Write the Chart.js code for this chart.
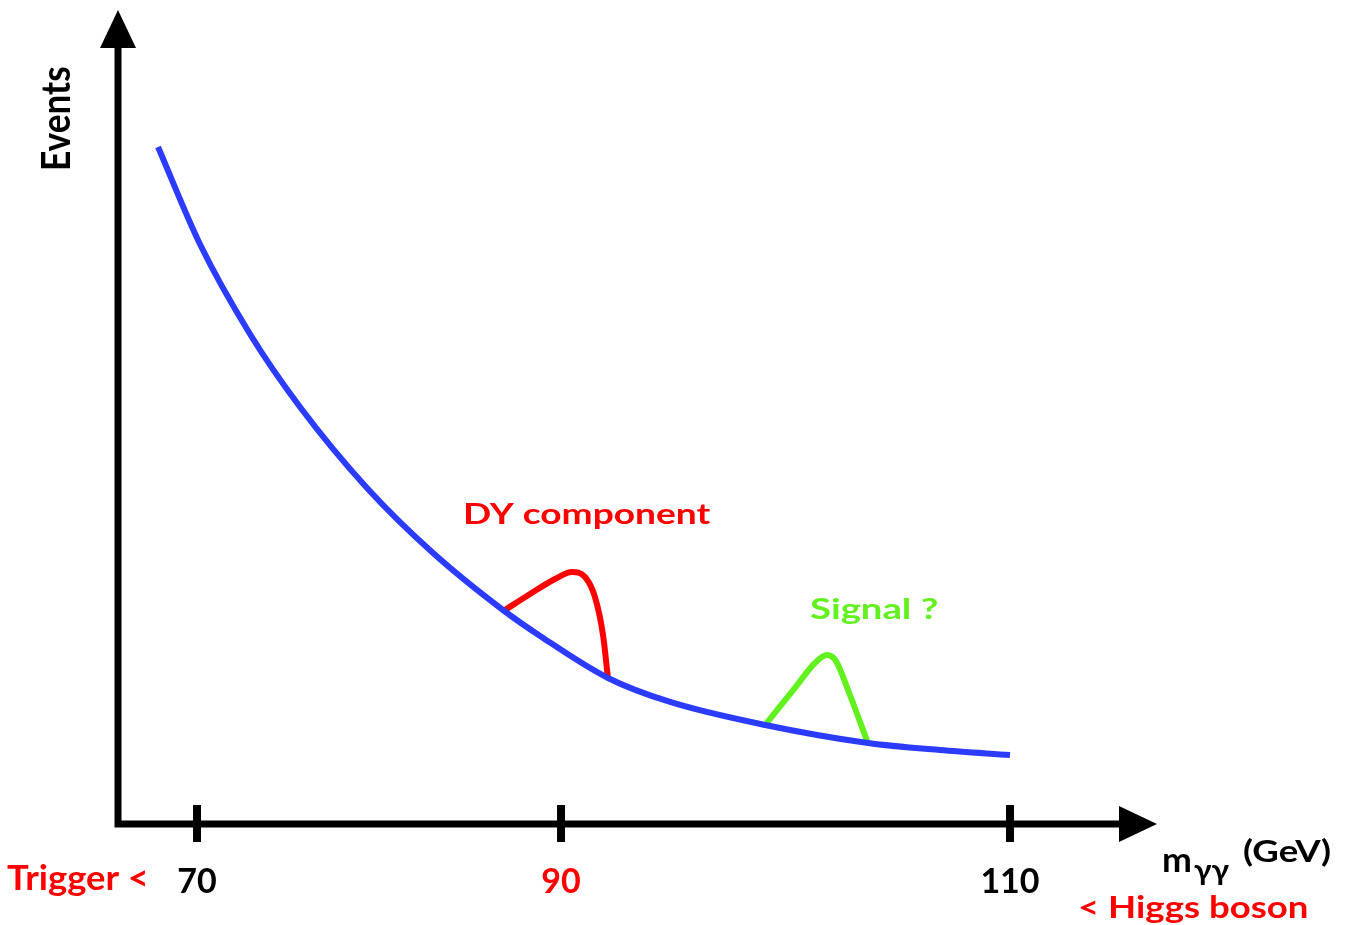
<!DOCTYPE html>
<html>
<head>
<meta charset="utf-8">
<script src="https://cdn.jsdelivr.net/npm/chart.js@4.4.0/dist/chart.umd.min.js"></script>
<style>
  html, body { margin: 0; padding: 0; background: #fff; }
  #wrap { width: 1354px; height: 925px; }
</style>
</head>
<body>
<div id="wrap"><canvas id="massChart"></canvas></div>
<script>
// Diphoton mass spectrum sketch: smooth background, DY bump and a possible signal
const bkgMass   = [67.86, 70.16, 72.91, 75.66, 79.34, 82.97, 86.81, 88.85, 92.09, 94.86, 99.09, 103.67, 106.88, 110];
const bkgEvents = [83.17, 71.25, 60.20, 51.23, 41.28, 33.29, 26.29, 23.10, 17.94, 14.99, 12.16, 9.95, 9.09, 8.48];
const dyMass    = [86.92, 88.30, 89.67, 90.49, 91.07, 91.51, 91.87, 92.09];
const dyEvents  = [26.29, 28.26, 30.10, 30.96, 30.34, 27.89, 23.22, 17.94];
const sigMass   = [99.09, 100.42, 101.31, 101.85, 102.25, 102.87, 103.67];
const sigEvents = [12.16, 16.71, 19.78, 20.76, 20.02, 15.85, 9.95];
const tickMass   = [70, 90, 110];
const tickLabels = ["70", "90", "110"];
const tickColors = ["#000000", "#ff0000", "#000000"];

const BLUE = "#2b3bff", RED = "#ff0000", GREEN = "#62f01e";
const FONT = 'Lato, "Open Sans", "DejaVu Sans", sans-serif';

// x axis is not to scale: 70-90 and 90-110 get different widths
const massBreaks = [[65.66, 0], [90, 0.4264], [116.55, 1]];

class SchematicScale extends Chart.LinearScale {
  static id = "schematic";
  static defaults = Chart.LinearScale.defaults;
  toDecimal(v) {
    for (let i = 1; i < massBreaks.length; i++) {
      if (v <= massBreaks[i][0] || i === massBreaks.length - 1) {
        const [v0, d0] = massBreaks[i - 1], [v1, d1] = massBreaks[i];
        return d0 + (v - v0) / (v1 - v0) * (d1 - d0);
      }
    }
  }
  getPixelForValue(v) { return this.getPixelForDecimal(this.toDecimal(v)); }
  getValueForPixel(p) {
    const d = this.getDecimalForPixel(p);
    for (let i = 1; i < massBreaks.length; i++) {
      if (d <= massBreaks[i][1] || i === massBreaks.length - 1) {
        const [v0, d0] = massBreaks[i - 1], [v1, d1] = massBreaks[i];
        return v0 + (d - d0) / (d1 - d0) * (v1 - v0);
      }
    }
  }
}
Chart.register(SchematicScale);

const toPoints = (xs, ys) => xs.map((x, i) => ({x, y: ys[i]}));
const curve = (data, color) => ({
  data, borderColor: color, borderWidth: 6, pointRadius: 0, fill: false,
  cubicInterpolationMode: "monotone", borderCapStyle: "butt", borderJoinStyle: "round",
});

const drawNote = (ctx, n) => {
  ctx.save();
  ctx.translate(n.x, n.y);
  if (n.rotate) ctx.rotate(n.rotate);
  ctx.scale(n.sx || 1, 1);
  ctx.font = `bold ${n.size}px ${FONT}`;
  ctx.fillStyle = n.color;
  ctx.textAlign = "left";
  ctx.textBaseline = "alphabetic";
  ctx.fillText(n.text, 0, 0);
  ctx.restore();
};

// axes with arrow heads, crossing tick marks and the free text
const sketchAxes = {
  id: "sketchAxes",
  beforeDatasetsDraw(chart) {
    const {ctx, chartArea: a, scales: {x}} = chart;
    const x0 = a.left, y0 = a.bottom;
    ctx.save();
    ctx.strokeStyle = "#000"; ctx.fillStyle = "#000"; ctx.lineWidth = 7; ctx.lineCap = "butt";
    ctx.beginPath();
    ctx.moveTo(x0, a.top + 36); ctx.lineTo(x0, y0); ctx.lineTo(a.right - 36, y0);
    ctx.stroke();
    ctx.beginPath();
    ctx.moveTo(x0, a.top); ctx.lineTo(x0 - 18, a.top + 38); ctx.lineTo(x0 + 18, a.top + 38); ctx.closePath();
    ctx.fill();
    ctx.beginPath();
    ctx.moveTo(a.right, y0); ctx.lineTo(a.right - 38, y0 - 18); ctx.lineTo(a.right - 38, y0 + 18); ctx.closePath();
    ctx.fill();
    ctx.lineWidth = 8;
    tickMass.forEach(m => {
      const px = x.getPixelForValue(m);
      ctx.beginPath(); ctx.moveTo(px, y0 - 19); ctx.lineTo(px, y0 + 18); ctx.stroke();
    });
    ctx.restore();
  },
  afterDraw(chart) {
    const {ctx} = chart;
    const notes = [
      {text: "Events", x: 70, y: 171, size: 40, color: "#000", sx: 0.88, rotate: -Math.PI / 2},
      {text: "DY component", x: 463, y: 524, size: 29, color: RED, sx: 1.28},
      {text: "Signal ?", x: 810, y: 619, size: 29, color: GREEN, sx: 1.32},
      {text: "Trigger <", x: 7, y: 890, size: 34, color: RED, sx: 1.07},
      {text: "< Higgs boson", x: 1078, y: 918, size: 30, color: RED, sx: 1.22},
      {text: "m", x: 1162, y: 872, size: 34, color: "#000", sx: 1.05},
      {text: "γγ", x: 1194, y: 880, size: 28, color: "#000", sx: 1.12},
      {text: "(GeV)", x: 1243, y: 862, size: 31, color: "#000", sx: 1.18},
    ];
    notes.forEach(n => drawNote(ctx, n));
  },
};

new Chart(document.getElementById("massChart"), {
  type: "line",
  data: {
    datasets: [
      curve(toPoints(bkgMass, bkgEvents), BLUE),
      curve(toPoints(dyMass, dyEvents), RED),
      curve(toPoints(sigMass, sigEvents), GREEN),
    ],
  },
  options: {
    responsive: true, maintainAspectRatio: false, animation: false, events: [],
    layout: { padding: { left: 118, top: 10, right: 197, bottom: 0 } },
    plugins: { legend: { display: false }, tooltip: { enabled: false } },
    scales: {
      x: {
        type: "schematic", min: massBreaks[0][0], max: massBreaks[massBreaks.length - 1][0],
        afterBuildTicks: (s) => { s.ticks = tickMass.map(v => ({value: v})); },
        afterFit: (s) => { s.height = 101; },
        grid: { display: false, drawTicks: false },
        border: { display: false },
        ticks: {
          autoSkip: false, maxRotation: 0, padding: 38,
          callback: (v, i) => tickLabels[i],
          color: (c) => tickColors[c.index],
          font: { family: FONT, size: 34, weight: "bold" },
        },
      },
      y: { display: false, min: 0, max: 100 },
    },
  },
  plugins: [sketchAxes],
});
</script>
</body>
</html>
